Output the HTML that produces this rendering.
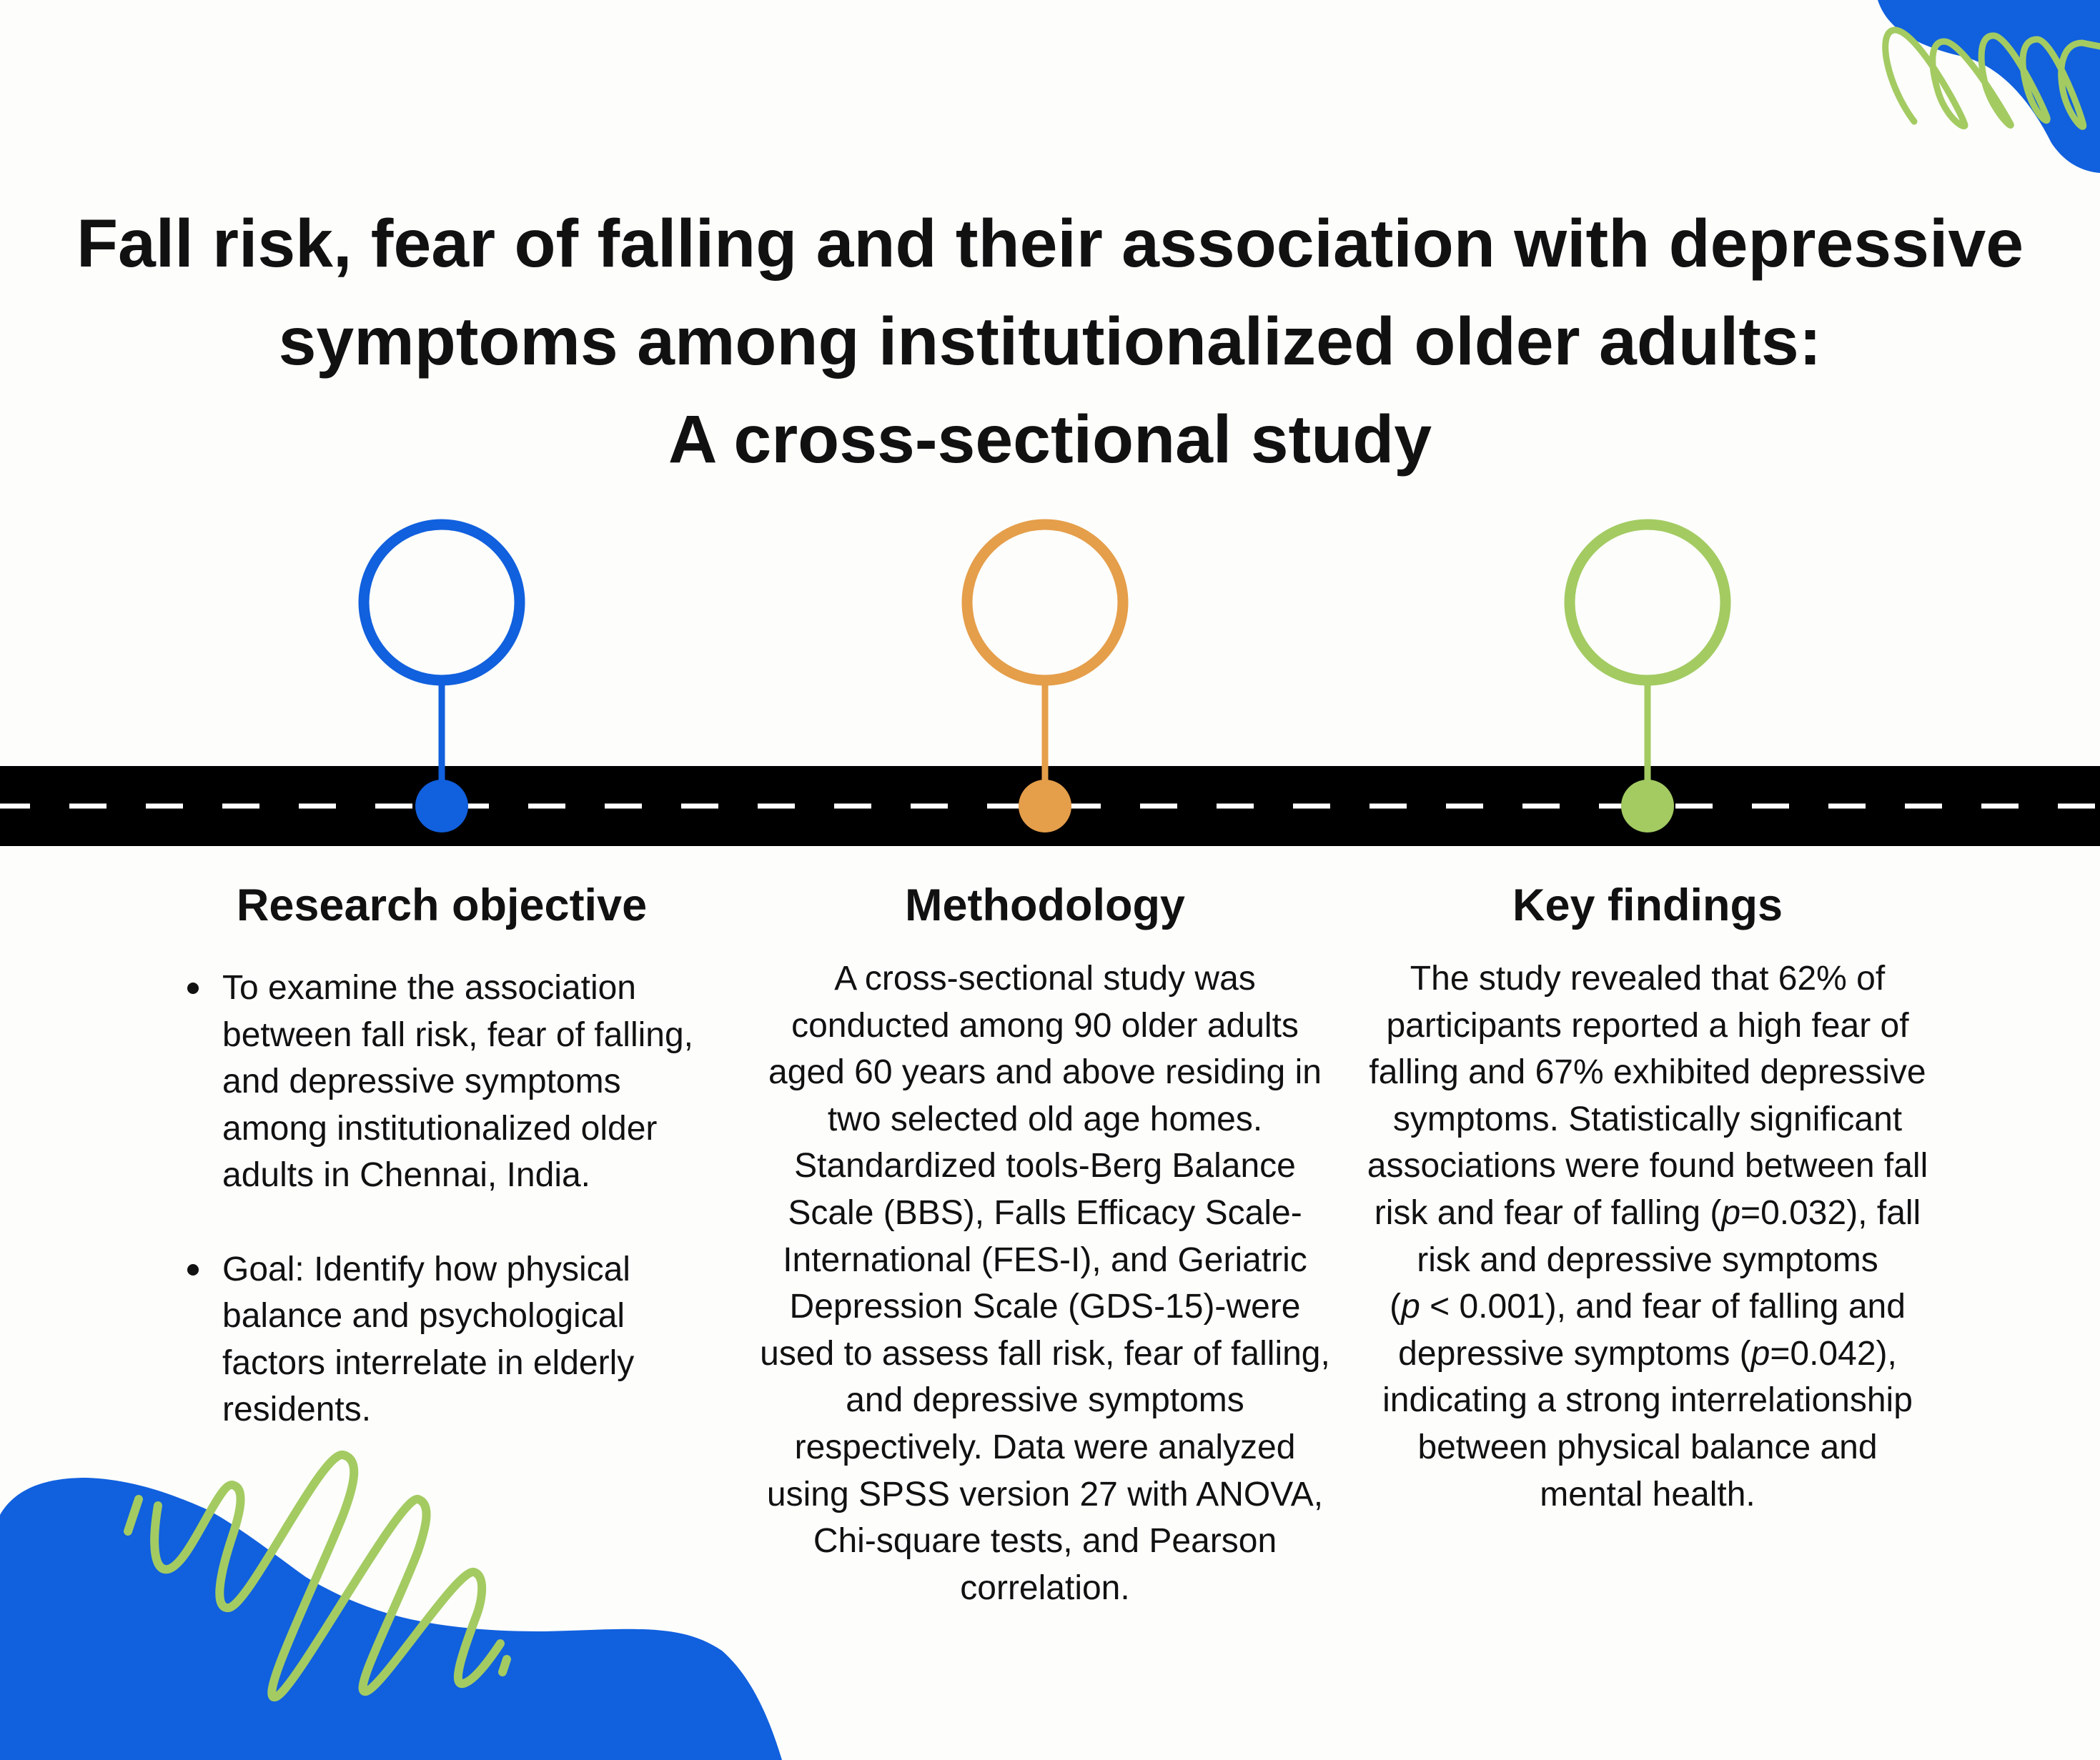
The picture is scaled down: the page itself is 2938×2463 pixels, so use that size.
<!DOCTYPE html>
<html><head><meta charset="utf-8"><style>
html,body{margin:0;padding:0}
body{width:2938px;height:2463px;position:relative;overflow:hidden;background:#fdfdfb;font-family:"Liberation Sans",sans-serif;color:#111}
.t{position:absolute;left:0;width:2938px;text-align:center;font-weight:bold;font-size:95px;line-height:137px;white-space:nowrap}
.h{position:absolute;width:900px;text-align:center;font-weight:bold;font-size:63px;line-height:80px;white-space:nowrap}
.l{position:absolute;width:1000px;text-align:center;font-size:48px;line-height:66px;white-space:nowrap}
.r{position:absolute;left:311px;font-size:48px;line-height:66px;white-space:nowrap}
.b{position:absolute;left:262px;width:16px;height:16px;border-radius:50%;background:#111}
</style></head><body>
<svg width="2938" height="2463" style="position:absolute;left:0;top:0">
<path d="M2627,0 C2640,40 2680,65 2750,80 C2800,95 2840,140 2870,200 C2890,230 2915,240 2938,242 L2938,0 Z" fill="#1160de"/>
<path d="M2678,170 C2640,120 2625,45 2650,42 C2680,40 2740,150 2748,172 C2755,185 2725,170 2712,130 C2700,90 2700,58 2720,58 C2745,58 2800,150 2812,172 C2820,185 2790,160 2778,120 C2768,80 2770,48 2790,50 C2810,52 2850,130 2863,162 C2870,180 2845,160 2835,120 C2825,80 2830,55 2850,55 C2870,55 2905,140 2914,172 C2920,190 2890,160 2885,120 C2880,85 2890,60 2913,60 L2938,65" fill="none" stroke="#a3cb62" stroke-width="9" stroke-linecap="round"/>
<path d="M0,2120 C20,2085 60,2068 120,2068 C190,2070 250,2095 291,2113 C340,2140 390,2180 428,2207 C500,2250 560,2265 612,2273 C660,2280 700,2283 760,2283 C820,2282 850,2279 900,2280 C950,2282 980,2290 1010,2310 C1050,2345 1075,2400 1094,2463 L0,2463 Z" fill="#1160de"/>
<path d="M194,2098 L179,2143" stroke="#a3cb62" stroke-width="12" stroke-linecap="round"/>
<path d="M709,2322 L703,2340" stroke="#a3cb62" stroke-width="12" stroke-linecap="round"/>
<path d="M221,2107 C212,2160 215,2200 235,2196 C265,2190 305,2075 325,2078 C345,2082 335,2120 325,2150 C305,2210 300,2252 320,2250 C350,2245 450,2030 480,2036 C505,2042 495,2080 480,2120 C440,2220 360,2380 385,2375 C410,2372 560,2090 585,2098 C605,2105 595,2140 585,2170 C555,2250 490,2372 512,2367 C535,2362 640,2195 663,2200 C680,2205 675,2240 665,2265 C650,2305 630,2360 648,2356 C665,2352 690,2315 700,2300" fill="none" stroke="#a3cb62" stroke-width="12" stroke-linecap="round"/>
<rect x="0" y="1072" width="2938" height="112" fill="#000"/>
<line x1="0" y1="1128" x2="2938" y2="1128" stroke="#fff" stroke-width="7" stroke-dasharray="52 55" stroke-dashoffset="10"/>
<g stroke-width="15" fill="#fdfdfb">
<circle cx="618" cy="843" r="109" stroke="#1160de"/>
<circle cx="1462" cy="843" r="109" stroke="#e59e4a"/>
<circle cx="2305" cy="843" r="109" stroke="#a3cb62"/>
</g>
<line x1="618" y1="958" x2="618" y2="1110" stroke="#1160de" stroke-width="9"/>
<line x1="1462" y1="958" x2="1462" y2="1110" stroke="#e59e4a" stroke-width="9"/>
<line x1="2305" y1="958" x2="2305" y2="1110" stroke="#a3cb62" stroke-width="9"/>
<circle cx="618" cy="1128" r="37" fill="#1160de"/>
<circle cx="1462" cy="1128" r="37" fill="#e59e4a"/>
<circle cx="2305" cy="1128" r="37" fill="#a3cb62"/>
</svg>
<div class="t" style="top:273px">Fall risk, fear of falling and their association with depressive</div>
<div class="t" style="top:410px">symptoms among institutionalized older adults:</div>
<div class="t" style="top:547px">A cross-sectional study</div>

<div class="h" style="left:168px;top:1227px">Research objective</div>
<div class="h" style="left:1012px;top:1227px">Methodology</div>
<div class="h" style="left:1855px;top:1227px">Key findings</div>

<div class="b" style="top:1375px"></div>
<div class="r" style="top:1350px">To examine the association</div>
<div class="r" style="top:1416px">between fall risk, fear of falling,</div>
<div class="r" style="top:1481px">and depressive symptoms</div>
<div class="r" style="top:1547px">among institutionalized older</div>
<div class="r" style="top:1612px">adults in Chennai, India.</div>
<div class="b" style="top:1769px"></div>
<div class="r" style="top:1744px">Goal: Identify how physical</div>
<div class="r" style="top:1809px">balance and psychological</div>
<div class="r" style="top:1875px">factors interrelate in elderly</div>
<div class="r" style="top:1940px">residents.</div>

<div class="l" style="left:962px;top:1337px">A cross-sectional study was</div>
<div class="l" style="left:962px;top:1403px">conducted among 90 older adults</div>
<div class="l" style="left:962px;top:1468px">aged 60 years and above residing in</div>
<div class="l" style="left:962px;top:1534px">two selected old age homes.</div>
<div class="l" style="left:962px;top:1599px">Standardized tools-Berg Balance</div>
<div class="l" style="left:962px;top:1665px">Scale (BBS), Falls Efficacy Scale-</div>
<div class="l" style="left:962px;top:1731px">International (FES-I), and Geriatric</div>
<div class="l" style="left:962px;top:1796px">Depression Scale (GDS-15)-were</div>
<div class="l" style="left:962px;top:1862px">used to assess fall risk, fear of falling,</div>
<div class="l" style="left:962px;top:1927px">and depressive symptoms</div>
<div class="l" style="left:962px;top:1993px">respectively. Data were analyzed</div>
<div class="l" style="left:962px;top:2059px">using SPSS version 27 with ANOVA,</div>
<div class="l" style="left:962px;top:2124px">Chi-square tests, and Pearson</div>
<div class="l" style="left:962px;top:2190px">correlation.</div>

<div class="l" style="left:1805px;top:1337px">The study revealed that 62% of</div>
<div class="l" style="left:1805px;top:1403px">participants reported a high fear of</div>
<div class="l" style="left:1805px;top:1468px">falling and 67% exhibited depressive</div>
<div class="l" style="left:1805px;top:1534px">symptoms. Statistically significant</div>
<div class="l" style="left:1805px;top:1599px">associations were found between fall</div>
<div class="l" style="left:1805px;top:1665px">risk and fear of falling (<i>p</i>=0.032), fall</div>
<div class="l" style="left:1805px;top:1731px">risk and depressive symptoms</div>
<div class="l" style="left:1805px;top:1796px">(<i>p</i> &lt; 0.001), and fear of falling and</div>
<div class="l" style="left:1805px;top:1862px">depressive symptoms (<i>p</i>=0.042),</div>
<div class="l" style="left:1805px;top:1927px">indicating a strong interrelationship</div>
<div class="l" style="left:1805px;top:1993px">between physical balance and</div>
<div class="l" style="left:1805px;top:2059px">mental health.</div>
</body></html>
